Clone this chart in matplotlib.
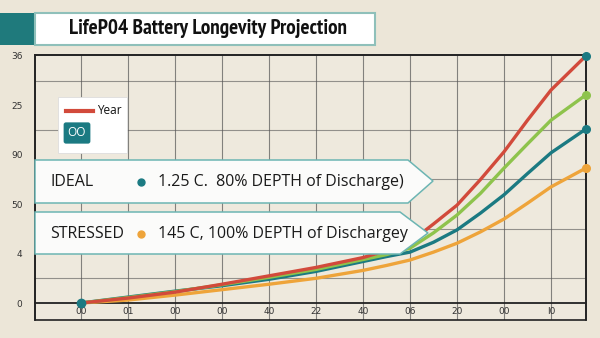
# LiFePO4 longevity chart - recreation
import matplotlib.pyplot as plt
from matplotlib.patches import Polygon, Rectangle
from matplotlib.lines import Line2D

# data
years = [0, 1, 2, 3, 4, 5, 6, 6.5, 7, 7.5, 8, 8.5, 9, 9.5, 10, 10.74]
red = [0, 0.10, 0.22, 0.38, 0.55, 0.72, 0.92, 1.06, 1.23, 1.60, 1.98, 2.50,
       3.06, 3.70, 4.31, 5.0]
green = [0, 0.11, 0.23, 0.37, 0.52, 0.68, 0.88, 0.98, 1.11, 1.42, 1.78, 2.22,
         2.73, 3.22, 3.70, 4.21]
teal = [0, 0.12, 0.24, 0.35, 0.48, 0.64, 0.84, 0.94, 1.03, 1.23, 1.48, 1.82,
        2.19, 2.62, 3.04, 3.52]
orange = [0, 0.06, 0.16, 0.27, 0.38, 0.50, 0.66, 0.76, 0.87, 1.03, 1.21, 1.44,
          1.70, 2.02, 2.35, 2.73]

xtick_labels = ["00", "01", "00", "00", "40", "22", "40", "06", "20", "00", "I0"]
ytick_labels = ["0", "4", "50", "90", "25", "36"]

title = "LifeP04 Battery Longevity Projection"
ideal_txt = "1.25 C.  80% DEPTH of Discharge)"
stressed_txt = "145 C, 100% DEPTH of Dischargey"

C_RED = "#d24a3b"
C_GREEN = "#8ec34c"
C_TEAL = "#1b7a82"
C_ORANGE = "#eea43a"
C_EDGE = "#6cb5b3"
BG = "#ece6d8"

W, H = 600, 338


def fx(px):
    return px / W


def fy(py):
    return 1 - py / H


fig = plt.figure(figsize=(6, 3.38), dpi=100, facecolor=BG)
ax = fig.add_axes([fx(35), fy(320), fx(586) - fx(35), fy(55) - fy(320)])

ax.set_xlim(-0.98, 10.745)
ax.set_ylim(-0.344, 5.02)

ax.set_xticks(range(len(xtick_labels)))
ax.set_xticklabels(xtick_labels)
ax.set_yticks(range(len(ytick_labels)))
ax.set_yticklabels(ytick_labels)
ax.set_yticks([i * 0.5 for i in range(11)], minor=True)
ax.tick_params(axis="both", which="both", length=0, labelsize=6.5,
               labelcolor="#333333")
ax.tick_params(axis="y", pad=9)
ax.tick_params(axis="x", pad=3)

ax.grid(True, which="major", axis="x", color="#555555", lw=0.8, alpha=0.7)
ax.grid(True, which="minor", axis="y", color="#555555", lw=0.8, alpha=0.6)

for s in ["top", "right", "left"]:
    ax.spines[s].set_color("#222222")
    ax.spines[s].set_linewidth(1.2)
ax.spines["bottom"].set_position(("data", 0))
ax.spines["bottom"].set_color("#222222")
ax.spines["bottom"].set_linewidth(1.3)
ax.add_patch(Rectangle((0, 0), 1, 1, transform=ax.transAxes, fill=False,
                       ec="#222222", lw=1.2, zorder=5, clip_on=False))

# plot background sits under the banners, curves go above them
ax.set_zorder(2)
ax.patch.set_visible(False)
fig.patches.append(Rectangle((fx(35), fy(320)), fx(586) - fx(35),
                             fy(55) - fy(320), transform=fig.transFigure,
                             fc="#eee9dd", ec="none", zorder=0))

# banners
ideal_poly = [(35, 160), (408, 160), (433, 181), (408, 203), (35, 203)]
stress_poly = [(35, 212), (400, 212), (428, 233), (400, 254), (35, 254)]
for poly in (ideal_poly, stress_poly):
    fig.patches.append(Polygon([(fx(x), fy(y)) for x, y in poly], closed=True,
                               transform=fig.transFigure, fc="#fbfbfa",
                               ec=C_EDGE, lw=1.1, zorder=3))

font_main = ["Open Sans", "DejaVu Sans"]
fig.text(fx(50), fy(182), "IDEAL", fontsize=11.5, family=font_main, va="center",
         color="#1a1a1a", zorder=4)
fig.text(fx(158), fy(182), ideal_txt, fontsize=11.5, family=font_main,
         va="center", color="#1a1a1a", zorder=4)
fig.text(fx(50), fy(234), "STRESSED", fontsize=11.5, family=font_main,
         va="center", color="#1a1a1a", zorder=4)
fig.text(fx(158), fy(234), stressed_txt, fontsize=11.5, family=font_main,
         va="center", color="#1a1a1a", zorder=4)
fig.add_artist(Line2D([fx(141)], [fy(182)], marker="o", ms=5, color=C_TEAL,
                      transform=fig.transFigure, zorder=4))
fig.add_artist(Line2D([fx(141)], [fy(234)], marker="o", ms=5, color=C_ORANGE,
                      transform=fig.transFigure, zorder=4))

ax.plot(years, orange, color=C_ORANGE, lw=2.4, zorder=6, solid_joinstyle="round")
ax.plot(years, teal, color=C_TEAL, lw=2.4, zorder=6, solid_joinstyle="round")
ax.plot(years, green, color=C_GREEN, lw=2.4, zorder=6, solid_joinstyle="round")
ax.plot(years, red, color=C_RED, lw=2.4, zorder=6, solid_joinstyle="round")
ax.plot(years[0], teal[0], "o", color=C_TEAL, ms=6, zorder=7, clip_on=False)
ax.plot(years[-1], red[-1], "o", color=C_TEAL, ms=5.5, zorder=7, clip_on=False)
ax.plot(years[-1], green[-1], "o", color=C_GREEN, ms=5.5, zorder=7, clip_on=False)
ax.plot(years[-1], teal[-1], "o", color=C_TEAL, ms=5.5, zorder=7, clip_on=False)
ax.plot(years[-1], orange[-1], "o", color=C_ORANGE, ms=5.5, zorder=7, clip_on=False)

# legend box
fig.patches.append(Rectangle((fx(58), fy(153)), fx(127) - fx(58), fy(97) - fy(153),
                             transform=fig.transFigure, fc="white", ec="#dddddd",
                             lw=0.6, zorder=8))
fig.add_artist(Line2D([fx(66), fx(93)], [fy(111), fy(111)], color=C_RED, lw=3,
                      transform=fig.transFigure, zorder=9))
fig.text(fx(97), fy(111), "Year", fontsize=8.5, family=font_main, va="center",
         color="#111111", zorder=9)
fig.text(fx(77), fy(133), "OO", fontsize=8.5, family=font_main, va="center",
         ha="center", color="white", zorder=9,
         bbox=dict(boxstyle="round,pad=0.35,rounding_size=0.2", fc=C_TEAL,
                   ec="none"))

# title block
fig.patches.append(Rectangle((0, fy(45)), fx(35), fy(13) - fy(45),
                             transform=fig.transFigure, fc="#1f7a7c", ec="none",
                             zorder=3))
fig.patches.append(Rectangle((fx(35), fy(45)), fx(375) - fx(35), fy(13) - fy(45),
                             transform=fig.transFigure, fc="white", ec="#8fc0ba",
                             lw=1.5, zorder=3))
t = fig.text(fx(208), fy(29), title, fontsize=15, fontweight="bold",
             family=["PT Sans Narrow", "DejaVu Sans"], ha="center",
             va="center", color="#111111", zorder=4)
# fit title width to about 280 px
fig.canvas.draw()
wpx = t.get_window_extent().width
t.set_fontsize(min(17, 15 * 280 / wpx))

fig.savefig("out.png", dpi=100, facecolor=BG)
